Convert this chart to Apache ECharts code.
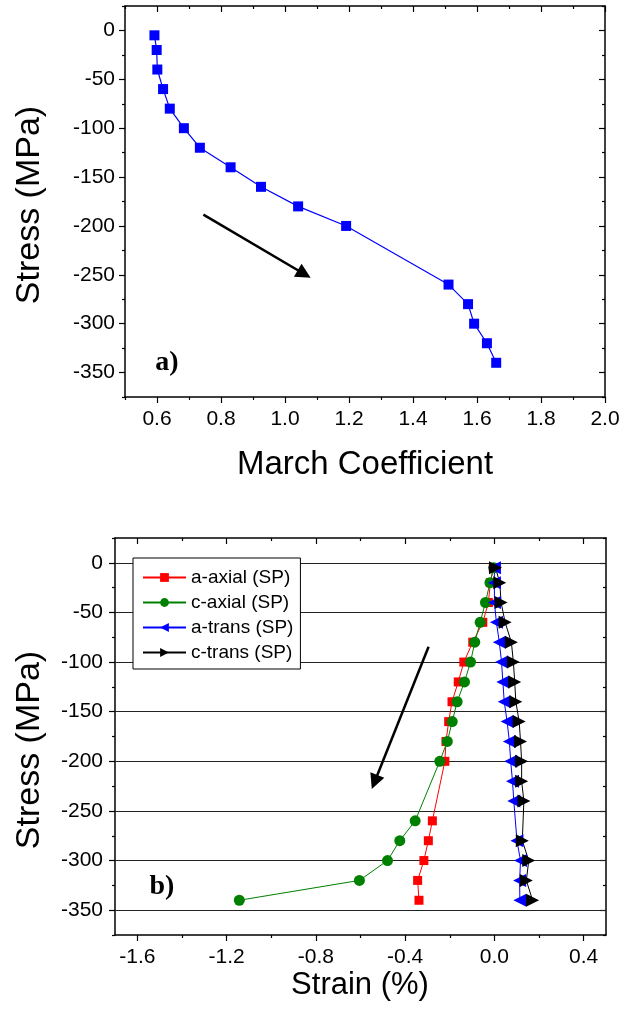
<!DOCTYPE html>
<html><head><meta charset="utf-8">
<script src="https://cdn.jsdelivr.net/npm/echarts@6/dist/echarts.min.js"></script>
<style>html,body{margin:0;padding:0;background:#fff}#c{width:624px;height:1016px}</style>
</head><body><div id="c"></div>
<script>
// ---------- data: panel a ----------
const stressA = [-5,-20,-40,-60,-80,-100,-120,-140,-160,-180,-200,-260,-280,-300,-320,-340];
const marchCoef = [0.592,0.599,0.601,0.619,0.640,0.684,0.734,0.830,0.925,1.041,1.191,1.511,1.572,1.591,1.631,1.660];
// ---------- data: panel b ----------
const stressAxial = [-5,-20,-40,-60,-80,-100,-120,-140,-160,-180,-200,-260,-280,-300,-320,-340];
const aAxial = [-0.005,-0.018,-0.027,-0.052,-0.097,-0.137,-0.162,-0.190,-0.205,-0.217,-0.222,-0.278,-0.296,-0.316,-0.344,-0.338];
const cAxial = [-0.003,-0.020,-0.040,-0.064,-0.088,-0.107,-0.134,-0.167,-0.189,-0.211,-0.245,-0.355,-0.424,-0.479,-0.605,-1.143];
const stressTrans = [-5,-20,-40,-60,-80,-100,-120,-140,-160,-180,-200,-220,-240,-280,-300,-320,-340];
const aTrans = [0.000,0.000,0.000,0.009,0.022,0.032,0.038,0.044,0.057,0.067,0.073,0.081,0.087,0.101,0.117,0.113,0.114];
const cTrans = [0.005,0.024,0.030,0.048,0.076,0.085,0.091,0.096,0.111,0.117,0.122,0.122,0.132,0.125,0.154,0.143,0.171];
const seriesNames = ['a-axial (SP)','c-axial (SP)','a-trans (SP)','c-trans (SP)'];
// ---------- ticks ----------
const topXMajor = [0.6,0.8,1.0,1.2,1.4,1.6,1.8,2.0];
const topXMinor = [0.5,0.7,0.9,1.1,1.3,1.5,1.7,1.9];
const yMajor = [0,-50,-100,-150,-200,-250,-300,-350];
const yMinor = [25,-25,-75,-125,-175,-225,-275,-325,-375];
const botXMajor = [-1.6,-1.2,-0.8,-0.4,0.0,0.4];
const botXMinor = [-1.4,-1.0,-0.6,-0.2,0.2];
const gridStress = [0,-50,-100,-150,-200,-250,-300,-350];
// ---------- annotation arrows (data coords) ----------
const arrowA = [[0.745,-188.4],[1.060,-249.2]];
const arrowB = [[-0.295,-84.6],[-0.537,-220.8]];

const FONT = '"Liberation Sans", Arial, sans-serif';

function axisSet(dim, gridIndex, min, max, major, minor, fmt, margin) {
  const isX = dim === 'x';
  const p1 = isX ? 'bottom' : 'left', p2 = isX ? 'top' : 'right';
  const mk = (pos, vals, len, inside, labels, line) => ({
    type: 'value', gridIndex, min, max, position: pos, silent: true,
    splitLine: {show: false},
    axisLine: {show: line, onZero: false, lineStyle: {color: '#000', width: 1.5}},
    axisTick: {show: true, inside, length: len, customValues: vals, lineStyle: {color: '#000', width: 1.2}},
    axisLabel: labels ? {show: true, customValues: vals, formatter: fmt, margin, color: '#000', fontSize: 21, fontFamily: FONT}
                      : {show: false}
  });
  return [mk(p1, major, 6, false, true, true), mk(p1, minor, 3, false, false, false),
          mk(p2, major, 6, true, false, true), mk(p2, minor, 3, true, false, false)];
}
const f1 = v => Number(v).toFixed(1);
const f0 = v => String(Math.round(v));

const xAxes = [].concat(
  axisSet('x', 0, 0.5, 2.0, topXMajor, topXMinor, f1, 12),
  axisSet('x', 1, -1.7, 0.5, botXMajor, botXMinor, f1, 12)
);
const yAxes = [].concat(
  axisSet('y', 0, -375, 25, yMajor, yMinor, f0, 10),
  axisSet('y', 1, -375, 25, yMajor, yMinor, f0, 12)
);

const zip = (xs, ys) => xs.map((x, i) => [x, ys[i]]);

const arrowMark = (pts) => ({
  silent: true, symbol: ['none', 'triangle'], symbolSize: 15, label: {show: false},
  lineStyle: {color: '#000', width: 2.5, type: 'solid'},
  itemStyle: {color: '#000'},
  data: [[{coord: pts[0], symbol: 'none'}, {coord: pts[1], symbol: 'triangle', symbolSize: 15, itemStyle: {color: '#000'}}]]
});

const chart = echarts.init(document.getElementById('c'), null, {renderer: 'canvas'});
chart.setOption({
  animation: false,
  backgroundColor: '#fff',
  grid: [
    {left: 125, top: 6, width: 480, height: 391, containLabel: false, outerBoundsMode: 'none'},
    {left: 115, top: 538, width: 491, height: 397, containLabel: false, outerBoundsMode: 'none'}
  ],
  xAxis: xAxes,
  yAxis: yAxes,
  legend: {
    data: seriesNames, orient: 'vertical', left: 133, top: 558,
    itemWidth: 43, itemHeight: 11, itemGap: 6,
    padding: [10, 7, 7, 9], borderColor: '#000', borderWidth: 1, backgroundColor: '#fff',
    textStyle: {fontSize: 19, color: '#000', fontFamily: FONT}
  },
  series: [
    {
      type: 'line', name: 'March', xAxisIndex: 0, yAxisIndex: 0,
      data: zip(marchCoef, stressA), symbol: 'rect', symbolSize: 10,
      itemStyle: {color: '#0000ff'}, lineStyle: {color: '#0000ff', width: 1.2},
      markLine: arrowMark(arrowA)
    },
    {
      type: 'line', name: seriesNames[0], xAxisIndex: 4, yAxisIndex: 4,
      data: zip(aAxial, stressAxial), symbol: 'rect', symbolSize: 9,
      itemStyle: {color: '#ff0000'}, lineStyle: {color: '#ff0000', width: 1},
      markLine: {
        silent: true, z: 1, symbol: 'none', label: {show: false},
        lineStyle: {color: '#222', width: 1, type: 'solid'},
        data: gridStress.map(v => ({yAxis: v}))
      }
    },
    {
      type: 'line', name: seriesNames[1], xAxisIndex: 4, yAxisIndex: 4,
      data: zip(cAxial, stressAxial), symbol: 'circle', symbolSize: 11,
      itemStyle: {color: '#008000'}, lineStyle: {color: '#008000', width: 1}
    },
    {
      type: 'line', name: seriesNames[2], xAxisIndex: 4, yAxisIndex: 4,
      data: zip(aTrans, stressTrans), symbol: 'triangle', symbolSize: 13, symbolRotate: 90,
      itemStyle: {color: '#0000ff'}, lineStyle: {color: '#0000ff', width: 1}
    },
    {
      type: 'line', name: seriesNames[3], xAxisIndex: 4, yAxisIndex: 4,
      data: zip(cTrans, stressTrans), symbol: 'triangle', symbolSize: 13, symbolRotate: -90,
      itemStyle: {color: '#000'}, lineStyle: {color: '#000', width: 1},
      markLine: arrowMark(arrowB)
    }
  ],
  graphic: [
    {type: 'text', x: 167, y: 363, silent: true, style: {text: 'a)', font: 'bold 28px "Liberation Serif", "Times New Roman", serif', fill: '#000', textAlign: 'center', textVerticalAlign: 'middle', align: 'center', verticalAlign: 'middle'}},
    {type: 'text', x: 162, y: 887, silent: true, style: {text: 'b)', font: 'bold 28px "Liberation Serif", "Times New Roman", serif', fill: '#000', textAlign: 'center', textVerticalAlign: 'middle', align: 'center', verticalAlign: 'middle'}},
    {type: 'text', x: 365, y: 465, silent: true, style: {text: 'March Coefficient', font: '33px ' + FONT, fill: '#000', textAlign: 'center', textVerticalAlign: 'middle', align: 'center', verticalAlign: 'middle'}},
    {type: 'text', x: 360, y: 985, silent: true, style: {text: 'Strain (%)', font: '31px ' + FONT, fill: '#000', textAlign: 'center', textVerticalAlign: 'middle', align: 'center', verticalAlign: 'middle'}},
    {type: 'text', x: 30, y: 205, rotation: Math.PI / 2, silent: true, style: {text: 'Stress (MPa)', font: '34px ' + FONT, fill: '#000', textAlign: 'center', textVerticalAlign: 'middle', align: 'center', verticalAlign: 'middle'}},
    {type: 'text', x: 30, y: 750, rotation: Math.PI / 2, silent: true, style: {text: 'Stress (MPa)', font: '34px ' + FONT, fill: '#000', textAlign: 'center', textVerticalAlign: 'middle', align: 'center', verticalAlign: 'middle'}}
  ]
});
</script></body></html>
